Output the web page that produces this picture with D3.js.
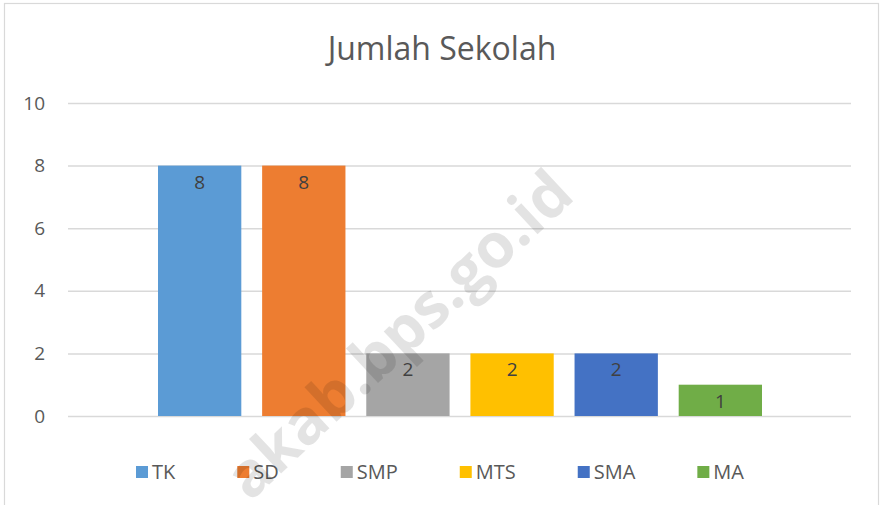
<!DOCTYPE html>
<html>
<head>
<meta charset="utf-8">
<script src="https://cdn.jsdelivr.net/npm/d3@7"></script>
<style>
  body { margin: 0; background: #fff; }
  svg { display: block; font-family: "Open Sans", sans-serif; }
</style>
</head>
<body>
<script>
// data
const categories = ["TK", "SD", "SMP", "MTS", "SMA", "MA"];
const values = [8, 8, 2, 2, 2, 1];
const colors = ["#5b9bd5", "#ed7d31", "#a5a5a5", "#ffc000", "#4472c4", "#70ad47"];
const yTicks = [0, 2, 4, 6, 8, 10];
const title = "Jumlah Sekolah";
const watermark = "akab.bps.go.id";

const w = 884;
const h = 505;

const svg = d3.select("body")
              .append("svg")
              .attr("width", w)
              .attr("height", h);

svg.append("rect")
   .attr("width", w)
   .attr("height", h)
   .attr("fill", "#fff");

// chart border
svg.append("rect")
   .attr("x", 4.5)
   .attr("y", 3.5)
   .attr("width", 874)
   .attr("height", 540)
   .attr("fill", "none")
   .attr("stroke", "#d9d9d9")
   .attr("stroke-width", 1.2);

// title
svg.append("text")
   .attr("x", 442)
   .attr("y", 60)
   .attr("text-anchor", "middle")
   .attr("font-size", 32)
   .attr("fill", "#595959")
   .text(title);

const yScale = d3.scaleLinear()
                 .domain([0, 10])
                 .range([416, 103]);

const xScale = d3.scaleBand()
                 .domain(categories)
                 .range([158, 762])
                 .paddingInner(0.2)
                 .paddingOuter(0);

// gridlines
const yAxis = d3.axisLeft(yScale)
                .tickValues(yTicks)
                .tickSize(-(851 - 68))
                .tickPadding(23);

const gy = svg.append("g")
   .attr("id", "y-axis")
   .attr("transform", "translate(68,0)")
   .call(yAxis);

gy.select(".domain").remove();
gy.selectAll(".tick line")
  .attr("stroke", "#d9d9d9")
  .attr("stroke-width", 1.5);
gy.selectAll(".tick text")
  .attr("fill", "#595959")
  .attr("font-size", 19)
  .attr("font-family", "Open Sans, sans-serif");

// bars
svg.append("g")
   .selectAll("rect")
   .data(values)
   .enter()
   .append("rect")
   .attr("x", (d, i) => xScale(categories[i]))
   .attr("y", d => yScale(d))
   .attr("width", xScale.bandwidth())
   .attr("height", d => yScale(0) - yScale(d))
   .attr("fill", (d, i) => colors[i]);

// data labels
svg.append("g")
   .selectAll("text")
   .data(values)
   .enter()
   .append("text")
   .attr("x", (d, i) => xScale(categories[i]) + xScale.bandwidth() / 2)
   .attr("y", d => yScale(d) + 23)
   .attr("text-anchor", "middle")
   .attr("font-size", 19)
   .attr("fill", "#404040")
   .text(d => d);

// legend
const legend = svg.append("g").attr("id", "legend");
const items = legend.selectAll("g")
   .data(categories)
   .enter()
   .append("g");

items.append("rect")
   .attr("width", 12)
   .attr("height", 12)
   .attr("y", 466)
   .attr("fill", (d, i) => colors[i]);

items.append("text")
   .attr("x", 16)
   .attr("y", 479)
   .attr("font-size", 20)
   .attr("fill", "#595959")
   .text(d => d);

const gap = 62;
let pos = 0;
const starts = [];
items.each(function() {
  starts.push(pos);
  const tw = d3.select(this).select("text").node().getComputedTextLength();
  pos += 16 + tw + gap;
});
const total = pos - gap;
const x0 = 440 - total / 2;
items.attr("transform", (d, i) => "translate(" + (x0 + starts[i]) + ",0)");

// watermark
svg.append("text")
   .attr("transform", "translate(402,338) rotate(-43)")
   .attr("text-anchor", "middle")
   .attr("dominant-baseline", "middle")
   .attr("font-size", 62)
   .attr("font-weight", "bold")
   .attr("fill", "#000")
   .attr("fill-opacity", 0.11)
   .text(watermark);
</script>
</body>
</html>
